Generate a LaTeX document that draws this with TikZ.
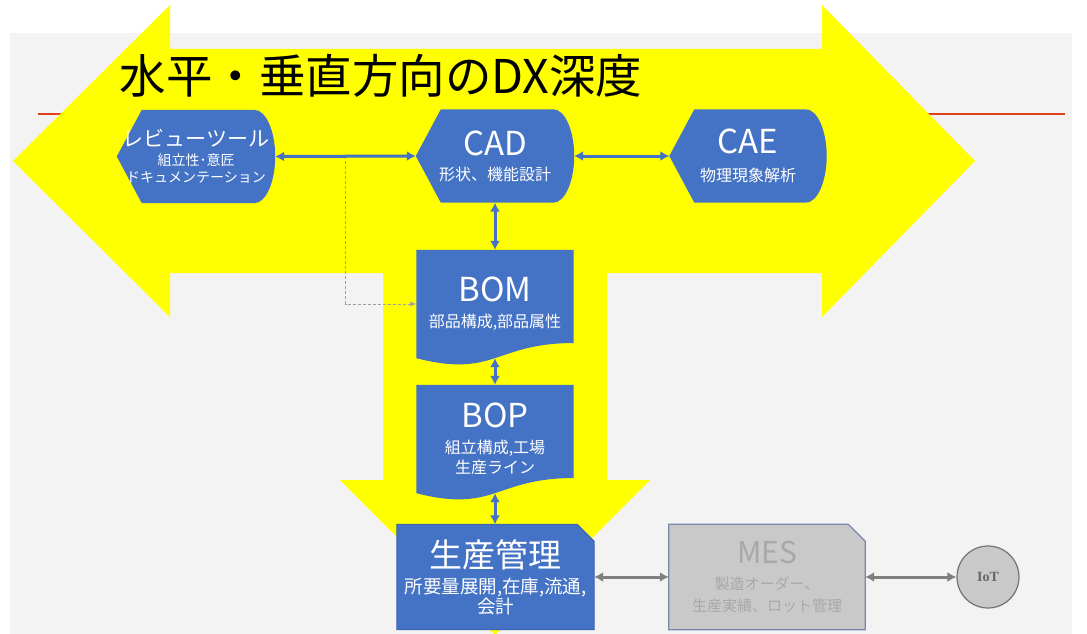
\documentclass[tikz,border=0pt]{standalone}
\usepackage{fontspec}
\setmainfont{Noto Sans CJK JP}
\newfontfamily\iotfont{Liberation Serif}
\usetikzlibrary{arrows.meta,calc}
\pgfdeclarelayer{back}
\pgfdeclarelayer{shapes}
\pgfsetlayers{back,shapes,main}
\definecolor{dxblue}{HTML}{4472C4}
\definecolor{dxedge}{HTML}{3A64B0}
\definecolor{dxyellow}{HTML}{FFFF00}
\definecolor{panel}{HTML}{F3F3F3}
\definecolor{redline}{HTML}{E0401C}
\definecolor{mesfill}{HTML}{C9C9C9}
\definecolor{mesedge}{HTML}{7788AA}
\definecolor{gconn}{HTML}{7F7F7F}
\definecolor{mestext}{HTML}{A8A8A8}
\newcommand{\dxdisplay}[1]{\fill[dxblue] (#1.west) -- ([xshift=25pt]#1.north west) -- ([xshift=-21pt]#1.north east) .. controls ([xshift=-9.4pt]#1.north east) and ([yshift=25.7pt]#1.east) .. (#1.east) .. controls ([yshift=-25.7pt]#1.east) and ([xshift=-9.4pt]#1.south east) .. ([xshift=-21pt]#1.south east) -- ([xshift=25pt]#1.south west) -- cycle;}
\newcommand{\dxdoc}[1]{\fill[dxblue] (#1.north west) -- (#1.north east) -- ($(#1.north east)!0.86!(#1.south east)$) .. controls ($(#1.north)!0.86!(#1.south)$) and ($(#1.north)!1.185!(#1.south)$) .. (#1.south west) -- cycle;}
\newcommand{\dxsnip}[2]{\filldraw[#2] (#1.north west) -- ([xshift=-17pt]#1.north east) -- ([yshift=-17pt]#1.north east) -- (#1.south east) -- (#1.south west) -- cycle;}
\begin{document}
\begin{tikzpicture}[x=1pt,y=-1pt,
  shapebox/.style={inner sep=0pt, text=white, align=center},
  bconn/.style={draw=dxblue, line width=3pt, <->, >={Latex[length=9pt,width=10pt]}},
  gconn/.style={draw=gconn, line width=3pt, <->, >={Latex[length=9pt,width=10pt]}},
  dconn/.style={draw=gray!75, line width=0.7pt, dash pattern=on 3pt off 2pt, -{Latex[length=6pt,width=5pt]}}]
\useasboundingbox (0,0) rectangle (1087,634);
\begin{pgfonlayer}{back}
  \fill[white] (0,0) rectangle (1087,634);
  \fill[panel] (10,33) rectangle (1072,634);
  \draw[redline, line width=1.5pt] (38,114) -- (1065,114);
  \fill[dxyellow] (13,161) -- (170,5) -- (170,49) -- (822,49) -- (822,5) -- (975,161)
    -- (822,317) -- (822,273) -- (607,273) -- (607,480) -- (650,480) -- (495,635)
    -- (340,480) -- (383,480) -- (383,273) -- (170,273) -- (170,317) -- cycle;
\end{pgfonlayer}
\node[anchor=west, font=\fontsize{46.5pt}{52pt}\selectfont] (title) at (116,76) {水平・垂直方向のDX深度};
% nodes
\node[shapebox, minimum width=158pt, minimum height=93pt, font=\fontsize{14pt}{17pt}\selectfont] (rev) at (196,156.5)
  {{\fontsize{21pt}{24pt}\selectfont レビューツール}\\[2pt]組立性･意匠\\ドキュメンテーション};
\node[shapebox, minimum width=158pt, minimum height=93pt, font=\fontsize{16pt}{20pt}\selectfont] (cad) at (495,156)
  {{\fontsize{33pt}{38pt}\selectfont CAD}\\[5pt]形状、機能設計};
\node[shapebox, minimum width=157pt, minimum height=93pt, font=\fontsize{16pt}{20pt}\selectfont] (cae) at (748,156)
  {{\fontsize{33pt}{38pt}\selectfont CAE}\\[8pt]物理現象解析};
\node[shapebox, minimum width=157pt, minimum height=108pt, font=\fontsize{16pt}{20pt}\selectfont] (bom) at (495,304)
  {{\fontsize{33pt}{38pt}\selectfont BOM}\\[6pt]部品構成,部品属性};
\node[shapebox, minimum width=157pt, minimum height=108pt, font=\fontsize{16pt}{20pt}\selectfont] (bop) at (495,439)
  {{\fontsize{33pt}{38pt}\selectfont BOP}\\[6pt]組立構成,工場\\生産ライン};
\node[shapebox, minimum width=197pt, minimum height=105pt, font=\fontsize{18.5pt}{20pt}\selectfont] (prod) at (495.5,577)
  {{\fontsize{33pt}{38pt}\selectfont 生産管理}\\[6pt]所要量展開,在庫,流通,\\会計};
\node[shapebox, minimum width=196pt, minimum height=105pt, text=mestext, font=\fontsize{15pt}{22pt}\selectfont] (mes) at (767,577)
  {{\fontsize{30pt}{34pt}\selectfont MES}\\[4pt]製造オーダー、\\生産実績、ロット管理};
\node[circle, minimum size=62pt, inner sep=0pt, fill=mesfill, draw=gray!90!black, line width=1.2pt,
  text=gray!80!black, font=\iotfont\bfseries\fontsize{14pt}{16pt}\selectfont] (iot) at (988,577) {IoT};
\begin{pgfonlayer}{shapes}
  \dxdisplay{rev}
  \dxdisplay{cad}
  \dxdisplay{cae}
  \dxdoc{bom}
  \dxdoc{bop}
  \dxsnip{prod}{fill=dxblue, draw=dxedge, line width=1pt}
  \dxsnip{mes}{fill=mesfill, draw=mesedge, line width=1.2pt}
\end{pgfonlayer}
% connectors
\coordinate (dj) at ($(rev.east)!0.5!(cad.west)$);
\draw[dconn] (dj) |- (bom.west);
\draw[bconn] (rev.east) -- (cad.west);
\draw[bconn] (cad.east) -- (cae.west);
\draw[bconn] (cad.south) -- (bom.north);
\draw[bconn] (bom.south) -- (bop.north);
\draw[bconn] (bop.south) -- (bop.south |- prod.north);
\draw[gconn] (prod.east) -- (mes.west);
\draw[gconn] (mes.east) -- (iot.west);
\end{tikzpicture}
\end{document}
